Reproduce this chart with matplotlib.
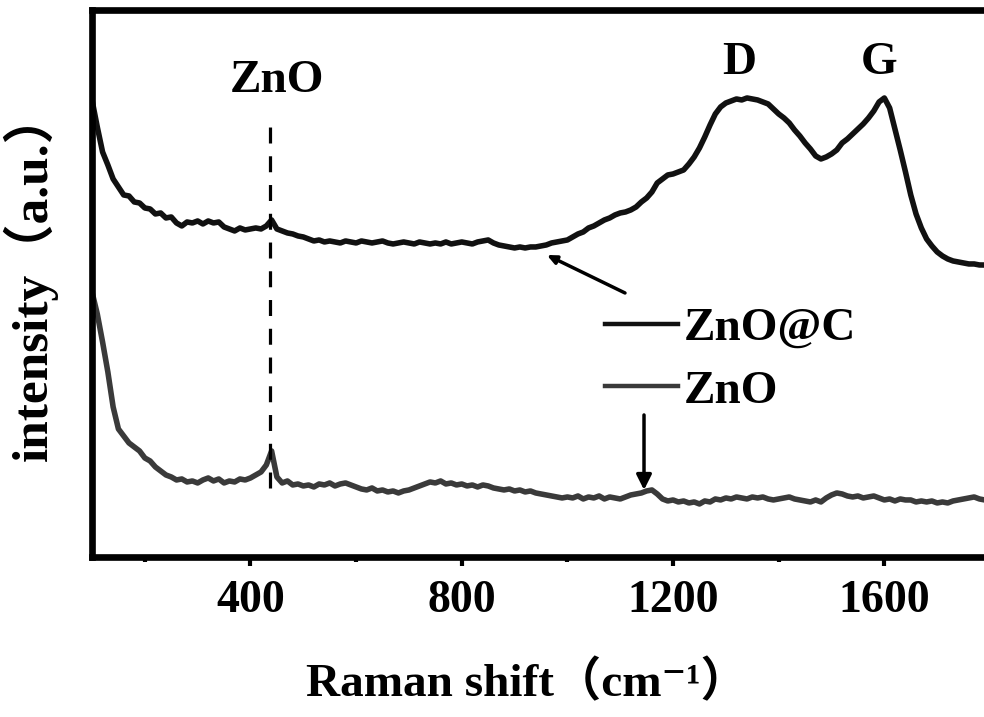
import numpy as np
import matplotlib
matplotlib.use("Agg")
import matplotlib.pyplot as plt

plt.rcParams['font.family'] = ['Liberation Serif', 'DejaVu Serif', 'Noto Sans CJK SC']
plt.rcParams['font.weight'] = 'bold'

# Raman shift grid (cm-1), one sample every 10 cm-1
raman_shift = np.arange(100, 1801, 10)

# intensity (a.u.)
znoc_intensity = [
    457, 430, 405, 392, 378, 370, 362, 361, 355, 354,   # 100-190
    349, 348, 343, 344, 339, 340, 334, 331, 335, 334,   # 200-290
    336, 333, 336, 334, 335, 330, 328, 326, 329, 327,   # 300-390
    328, 329, 328, 331, 337, 328, 326, 324, 323, 321,   # 400-490
    320, 318, 316, 317, 315, 316, 315, 314, 316, 315,   # 500-590
    314, 316, 315, 314, 315, 316, 314, 313, 314, 315,   # 600-690
    314, 313, 315, 314, 313, 314, 313, 315, 313, 314,   # 700-790
    315, 314, 313, 315, 316, 317, 314, 312, 311, 310,   # 800-890
    309, 310, 309, 310, 310, 311, 312, 314, 315, 316,   # 900-990
    317, 320, 323, 325, 329, 331, 334, 337, 339, 342,   # 1000-1090
    344, 345, 347, 350, 355, 359, 365, 374, 378, 382,   # 1100-1190
    383, 385, 387, 393, 400, 409, 420, 432, 443, 450,   # 1200-1290
    454, 456, 458, 457, 459, 458, 457, 455, 453, 448,   # 1300-1390
    443, 439, 434, 427, 421, 414, 408, 401, 398, 400,   # 1400-1490
    403, 407, 414, 418, 423, 428, 433, 439, 446, 455,   # 1500-1590
    459, 449, 428, 407, 385, 362, 343, 329, 318, 311,   # 1600-1690
    305, 301, 298, 296, 295, 294, 293, 293, 292, 292,   # 1700-1790
    291,                                                # 1800
]

zno_intensity = [
    265, 243, 215, 185, 150, 128, 121, 114, 110, 106,   # 100-190
    99, 96, 90, 86, 82, 80, 77, 78, 75, 76,             # 200-290
    74, 77, 79, 76, 78, 74, 76, 75, 78, 77,             # 300-390
    79, 82, 85, 92, 106, 80, 74, 76, 72, 73,            # 400-490
    71, 72, 70, 73, 72, 74, 71, 73, 74, 72,             # 500-590
    70, 68, 67, 69, 66, 67, 65, 66, 64, 66,             # 600-690
    67, 69, 71, 73, 75, 74, 76, 73, 74, 72,             # 700-790
    73, 71, 72, 70, 72, 71, 69, 68, 67, 68,             # 800-890
    66, 67, 65, 66, 64, 63, 62, 61, 60, 59,             # 900-990
    60, 59, 61, 58, 60, 59, 61, 58, 60, 59,             # 1000-1090
    58, 60, 62, 63, 64, 66, 67, 63, 58, 56,             # 1100-1190
    57, 55, 56, 54, 55, 53, 56, 55, 58, 57,             # 1200-1290
    59, 58, 60, 59, 58, 60, 59, 60, 58, 57,             # 1300-1390
    58, 59, 60, 58, 57, 56, 55, 57, 55, 59,             # 1400-1490
    62, 64, 63, 61, 60, 61, 59, 60, 61, 59,             # 1500-1590
    57, 58, 56, 58, 57, 57, 55, 56, 55, 56,             # 1600-1690
    54, 55, 54, 56, 57, 58, 59, 60, 58, 57,             # 1700-1790
    56,                                                 # 1800
]

series_labels = ['ZnO@C', 'ZnO']
series_colors = ['#111111', '#3a3a3a']
x_ticks = [400, 800, 1200, 1600]
minor_ticks = [200, 600, 1000, 1400]
zno_peak = 437

fig = plt.figure(figsize=(9.84, 7.17), dpi=100)
ax = fig.add_axes([0.0935, 0.2232, 0.9126, 0.7629])

ax.plot(raman_shift, znoc_intensity, color=series_colors[0], lw=4, label=series_labels[0])
ax.plot(raman_shift, zno_intensity, color=series_colors[1], lw=4, label=series_labels[1])

ax.set_xlim(100, 1800)
ax.set_ylim(0, 547)

# ZnO reference line
ax.plot([zno_peak, zno_peak], [69, 439], color='black', lw=2.3, dashes=(5, 4))

ax.text(450, 465, 'ZnO', ha='center', va='baseline', fontsize=34, fontweight='bold')
ax.text(1325, 483, 'D', ha='center', va='baseline', fontsize=34, fontweight='bold')
ax.text(1590, 483, 'G', ha='center', va='baseline', fontsize=34, fontweight='bold')

ax.annotate('', xy=(961, 302), xytext=(1109, 264),
            arrowprops=dict(arrowstyle='-|>,head_length=0.55,head_width=0.25',
                            color='black', lw=2.5, shrinkA=0, shrinkB=0))
ax.annotate('', xy=(1145, 67), xytext=(1145, 142),
            arrowprops=dict(arrowstyle='-|>,head_length=0.9,head_width=0.45',
                            color='black', lw=2.5, shrinkA=0, shrinkB=0))

leg = ax.legend(loc='upper left', bbox_to_anchor=(0.571, 0.457), frameon=False,
                fontsize=34, handlelength=1.55, handletextpad=0.12,
                labelspacing=0.42, borderpad=0, borderaxespad=0)
for line in leg.get_lines():
    line.set_linewidth(3.2)

for side in ['left', 'bottom', 'top', 'right']:
    ax.spines[side].set_linewidth(4.8)

ax.set_yticks([])
ax.set_xticks(x_ticks)
ax.set_xticks(minor_ticks, minor=True)
ax.tick_params(axis='x', which='major', direction='out', length=6.5, width=3,
               labelsize=33, pad=10)
ax.tick_params(axis='x', which='minor', direction='out', length=3.5, width=3)

ax.set_xlabel('Raman shift（cm⁻¹）', fontsize=34, fontweight='bold')
ax.xaxis.set_label_coords(0.484, -0.232)
ax.xaxis.label.set_va('center')
ax.set_ylabel('intensity（a.u.）', fontsize=37, fontweight='bold')
ax.yaxis.set_label_coords(-0.069, 0.515)
ax.yaxis.label.set_va('center')

fig.savefig('out.png', dpi=100)
